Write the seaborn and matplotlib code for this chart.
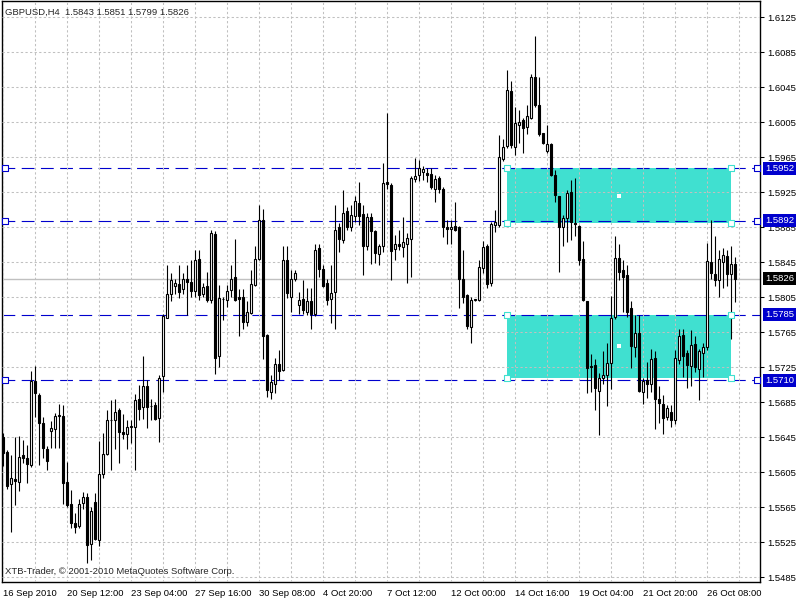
import numpy as np
import pandas as pd
import matplotlib
matplotlib.use("Agg")
import matplotlib.pyplot as plt
import matplotlib.transforms as mtransforms
from matplotlib.patches import Rectangle
import seaborn as sns

# ------------------------------------------------------------
# GBPUSD H4 bars
# ------------------------------------------------------------
opens = [
    1.5645, 1.5628, 1.5591, 1.5597, 1.5594, 1.5624, 1.5621, 1.5613, 1.5709, 1.5693,
    1.5661, 1.5631, 1.5652, 1.5654, 1.5669, 1.5669, 1.5594, 1.5568, 1.5547, 1.5543,
    1.5570, 1.5577, 1.5523, 1.5571, 1.5527, 1.5603, 1.5626, 1.5665, 1.5665, 1.5676,
    1.5651, 1.5649, 1.5657, 1.5657, 1.5688, 1.5679, 1.5703, 1.5681, 1.5682, 1.5667,
    1.5715, 1.5781, 1.5808, 1.5818, 1.5820, 1.5814, 1.5826, 1.5822, 1.5812, 1.5848,
    1.5808, 1.5818, 1.5802, 1.5877, 1.5738, 1.5803, 1.5802, 1.5813, 1.5828, 1.5805,
    1.5805, 1.5777, 1.5787, 1.5819, 1.5848, 1.5893, 1.5762, 1.5697, 1.5706, 1.5729,
    1.5722, 1.5847, 1.5805, 1.5826, 1.5796, 1.5803, 1.5788, 1.5801, 1.5786, 1.5861,
    1.5837, 1.5821, 1.5803, 1.5811, 1.5885, 1.5870, 1.5903, 1.5885, 1.5898, 1.5913,
    1.5900, 1.5863, 1.5897, 1.5880, 1.5854, 1.5863, 1.5936, 1.5933, 1.5860, 1.5866,
    1.5862, 1.5866, 1.5871, 1.5940, 1.5944, 1.5948, 1.5947, 1.5946, 1.5929, 1.5941,
    1.5929, 1.5885, 1.5883, 1.5886, 1.5885, 1.5826, 1.5807, 1.5771, 1.5802, 1.5802,
    1.5838, 1.5863, 1.5821, 1.5887, 1.5887, 1.5963, 1.5978, 1.6040, 1.5976, 1.6002,
    1.6007, 1.5999, 1.6010, 1.6057, 1.6024, 1.5993, 1.5972, 1.5980, 1.5945, 1.5920,
    1.5885, 1.5895, 1.5925, 1.5890, 1.5886, 1.5849, 1.5800, 1.5726, 1.5727, 1.5698,
    1.5713, 1.5716, 1.5730, 1.5782, 1.5850, 1.5836, 1.5830, 1.5792, 1.5748, 1.5764,
    1.5697, 1.5710, 1.5706, 1.5735, 1.5689, 1.5683, 1.5668, 1.5674, 1.5665, 1.5733,
    1.5762, 1.5741, 1.5726, 1.5751, 1.5723, 1.5741, 1.5748, 1.5845, 1.5831, 1.5825,
    1.5845, 1.5852, 1.5831, 1.5843,
]
highs = [
    1.5650, 1.5630, 1.5624, 1.5645, 1.5646, 1.5642, 1.5636, 1.5720, 1.5726, 1.5695,
    1.5668, 1.5635, 1.5663, 1.5673, 1.5683, 1.5682, 1.5617, 1.5584, 1.5558, 1.5574,
    1.5582, 1.5581, 1.5565, 1.5581, 1.5641, 1.5650, 1.5676, 1.5687, 1.5688, 1.5678,
    1.5671, 1.5664, 1.5664, 1.5694, 1.5704, 1.5738, 1.5710, 1.5688, 1.5685, 1.5716,
    1.5786, 1.5842, 1.5832, 1.5826, 1.5842, 1.5832, 1.5842, 1.5847, 1.5859, 1.5859,
    1.5821, 1.5834, 1.5882, 1.5881, 1.5819, 1.5805, 1.5819, 1.5842, 1.5871, 1.5814,
    1.5814, 1.5800, 1.5836, 1.5863, 1.5910, 1.5906, 1.5763, 1.5716, 1.5735, 1.5745,
    1.5863, 1.5863, 1.5836, 1.5836, 1.5811, 1.5824, 1.5815, 1.5815, 1.5866, 1.5866,
    1.5842, 1.5826, 1.5842, 1.5910, 1.5890, 1.5927, 1.5908, 1.5910, 1.5920, 1.5937,
    1.5910, 1.5901, 1.5901, 1.5882, 1.5866, 1.5958, 1.6015, 1.5935, 1.5876, 1.5882,
    1.5897, 1.5878, 1.5943, 1.5964, 1.5962, 1.5955, 1.5952, 1.5952, 1.5945, 1.5943,
    1.5931, 1.5893, 1.5893, 1.5914, 1.5886, 1.5859, 1.5809, 1.5805, 1.5803, 1.5847,
    1.5869, 1.5866, 1.5891, 1.5905, 1.5990, 1.5986, 1.6064, 1.6052, 1.6022, 1.6019,
    1.6010, 1.6024, 1.6060, 1.6103, 1.6057, 1.5993, 1.6002, 1.5981, 1.5950, 1.5920,
    1.5899, 1.5927, 1.5939, 1.5941, 1.5887, 1.5869, 1.5801, 1.5740, 1.5734, 1.5718,
    1.5743, 1.5753, 1.5806, 1.5875, 1.5866, 1.5847, 1.5842, 1.5800, 1.5784, 1.5784,
    1.5712, 1.5731, 1.5746, 1.5743, 1.5703, 1.5693, 1.5682, 1.5682, 1.5744, 1.5768,
    1.5769, 1.5745, 1.5767, 1.5760, 1.5746, 1.5752, 1.5867, 1.5893, 1.5875, 1.5859,
    1.5861, 1.5859, 1.5863, 1.5851,
]
lows = [
    1.5612, 1.5586, 1.5536, 1.5567, 1.5583, 1.5615, 1.5592, 1.5611, 1.5668, 1.5613,
    1.5621, 1.5607, 1.5632, 1.5633, 1.5633, 1.5568, 1.5565, 1.5541, 1.5535, 1.5541,
    1.5563, 1.5501, 1.5505, 1.5527, 1.5520, 1.5598, 1.5624, 1.5607, 1.5631, 1.5615,
    1.5643, 1.5631, 1.5638, 1.5607, 1.5664, 1.5666, 1.5655, 1.5664, 1.5664, 1.5639,
    1.5697, 1.5781, 1.5801, 1.5809, 1.5804, 1.5809, 1.5784, 1.5805, 1.5805, 1.5802,
    1.5805, 1.5799, 1.5798, 1.5717, 1.5725, 1.5779, 1.5794, 1.5805, 1.5801, 1.5760,
    1.5769, 1.5772, 1.5786, 1.5818, 1.5847, 1.5734, 1.5691, 1.5688, 1.5695, 1.5710,
    1.5720, 1.5804, 1.5788, 1.5823, 1.5786, 1.5786, 1.5784, 1.5768, 1.5783, 1.5828,
    1.5817, 1.5796, 1.5775, 1.5769, 1.5857, 1.5867, 1.5882, 1.5880, 1.5891, 1.5887,
    1.5830, 1.5859, 1.5843, 1.5844, 1.5842, 1.5857, 1.5928, 1.5824, 1.5847, 1.5859,
    1.5851, 1.5821, 1.5828, 1.5937, 1.5938, 1.5939, 1.5937, 1.5929, 1.5914, 1.5924,
    1.5874, 1.5866, 1.5866, 1.5880, 1.5792, 1.5798, 1.5769, 1.5752, 1.5800, 1.5800,
    1.5832, 1.5815, 1.5818, 1.5879, 1.5885, 1.5960, 1.5975, 1.5975, 1.5967, 1.5981,
    1.5970, 1.5991, 1.6008, 1.6022, 1.5989, 1.5980, 1.5970, 1.5943, 1.5914, 1.5834,
    1.5863, 1.5868, 1.5870, 1.5875, 1.5842, 1.5800, 1.5695, 1.5696, 1.5676, 1.5647,
    1.5706, 1.5680, 1.5700, 1.5780, 1.5824, 1.5788, 1.5782, 1.5724, 1.5737, 1.5696,
    1.5683, 1.5690, 1.5696, 1.5654, 1.5661, 1.5649, 1.5664, 1.5657, 1.5660, 1.5728,
    1.5714, 1.5701, 1.5703, 1.5719, 1.5687, 1.5714, 1.5745, 1.5826, 1.5818, 1.5805,
    1.5815, 1.5818, 1.5757, 1.5799,
]
closes = [
    1.5627, 1.5589, 1.5598, 1.5595, 1.5622, 1.5621, 1.5614, 1.5709, 1.5695, 1.5661,
    1.5632, 1.5618, 1.5655, 1.5669, 1.5670, 1.5593, 1.5567, 1.5547, 1.5542, 1.5569,
    1.5577, 1.5522, 1.5560, 1.5529, 1.5603, 1.5626, 1.5665, 1.5664, 1.5674, 1.5651,
    1.5649, 1.5657, 1.5658, 1.5687, 1.5677, 1.5703, 1.5679, 1.5680, 1.5666, 1.5713,
    1.5783, 1.5809, 1.5825, 1.5821, 1.5811, 1.5826, 1.5822, 1.5812, 1.5847, 1.5807,
    1.5816, 1.5802, 1.5878, 1.5735, 1.5804, 1.5803, 1.5812, 1.5826, 1.5802, 1.5803,
    1.5777, 1.5788, 1.5820, 1.5848, 1.5893, 1.5760, 1.5699, 1.5708, 1.5729, 1.5721,
    1.5847, 1.5810, 1.5826, 1.5833, 1.5802, 1.5790, 1.5800, 1.5786, 1.5859, 1.5837,
    1.5818, 1.5802, 1.5810, 1.5882, 1.5871, 1.5901, 1.5885, 1.5899, 1.5915, 1.5898,
    1.5863, 1.5897, 1.5881, 1.5855, 1.5863, 1.5935, 1.5934, 1.5858, 1.5866, 1.5863,
    1.5868, 1.5873, 1.5941, 1.5943, 1.5953, 1.5951, 1.5945, 1.5931, 1.5940, 1.5928,
    1.5885, 1.5883, 1.5885, 1.5882, 1.5826, 1.5805, 1.5772, 1.5802, 1.5802, 1.5839,
    1.5862, 1.5820, 1.5888, 1.5891, 1.5965, 1.5976, 1.6042, 1.5979, 1.6004, 1.6005,
    1.5998, 1.6012, 1.6056, 1.6024, 1.5991, 1.5981, 1.5980, 1.5944, 1.5922, 1.5885,
    1.5895, 1.5924, 1.5891, 1.5888, 1.5847, 1.5802, 1.5724, 1.5725, 1.5701, 1.5713,
    1.5716, 1.5730, 1.5781, 1.5850, 1.5834, 1.5828, 1.5788, 1.5749, 1.5764, 1.5698,
    1.5709, 1.5706, 1.5734, 1.5688, 1.5684, 1.5667, 1.5678, 1.5664, 1.5735, 1.5760,
    1.5738, 1.5727, 1.5750, 1.5725, 1.5743, 1.5748, 1.5846, 1.5832, 1.5824, 1.5848,
    1.5853, 1.5831, 1.5843, 1.5826,
]

date_labels = ["16 Sep 2010", "20 Sep 12:00", "23 Sep 04:00", "27 Sep 16:00",
               "30 Sep 08:00", "4 Oct 20:00", "7 Oct 12:00", "12 Oct 00:00",
               "14 Oct 16:00", "19 Oct 04:00", "21 Oct 20:00", "26 Oct 08:00"]

hline_levels = [1.5952, 1.5892, 1.5785, 1.5710]
hline_handles = [1.5952, 1.5892, 1.5710]          # lines shown as selected
zones = [(1.5890, 1.5952), (1.5713, 1.5785)]       # (bottom, top) of the two boxes
zone_bars = (126, 182)                            # first / last bar covered
bid_price = 1.5826
title = "GBPUSD,H4  1.5843 1.5851 1.5799 1.5826"
copyright_txt = "XTB-Trader, \u00a9 2001-2010 MetaQuotes Software Corp."

# ------------------------------------------------------------
# style
# ------------------------------------------------------------
sns.set_theme(style="white")
plt.rcParams['font.family'] = ['Liberation Sans', 'DejaVu Sans']
FS = 6.8
BLUE = "#0000cd"
TURQ = "#40e0d0"
GRID = "#c0c0c0"

df = pd.DataFrame({"open": opens, "high": highs, "low": lows, "close": closes})
df["bar"] = np.arange(len(df))
df["bull"] = df["close"] >= df["open"]

fig = plt.figure(figsize=(8, 6), dpi=100)
ax = fig.add_axes([2 / 800, 18 / 600, 758 / 800, 581 / 600])
ax.set_xlim(-0.25, 189.25)
ax.set_ylim(1.54793, 1.61433)

# grid
price_ticks = np.round(np.arange(1.5485, 1.6126, 0.0040), 4)
bar_ticks = np.arange(0, 190, 8)
ax.set_yticks(price_ticks)
ax.set_yticklabels([f"{p:.4f}" for p in price_ticks], fontsize=FS)
ax.set_xticks(bar_ticks)
ax.set_xticklabels([date_labels[k // 2] if k % 2 == 0 and k // 2 < len(date_labels) else ""
                    for k in range(len(bar_ticks))], fontsize=FS, ha="left")
ax.grid(True, color=GRID, linestyle=(0, (2.2, 2.2)), linewidth=0.75, zorder=1)
ax.set_axisbelow(False)
ax.yaxis.tick_right()
ax.tick_params(axis="both", direction="out", length=3, width=0.75, color="black",
               pad=2, labelcolor="black")
for s in ax.spines.values():
    s.set_color("black")
    s.set_linewidth(1)

# turquoise zones (behind grid)
for lo, hi in zones:
    ax.add_patch(Rectangle((zone_bars[0], lo), zone_bars[1] - zone_bars[0], hi - lo,
                           facecolor=TURQ, edgecolor="none", zorder=0.5))

# bid line
ax.axhline(bid_price, color=GRID, linewidth=1, zorder=1.5)

# horizontal levels
for lvl in hline_levels:
    ax.axhline(lvl, color=BLUE, linewidth=0.8, linestyle=(0, (11.5, 5.8)), zorder=2)

# candles
ax.vlines(df["bar"], df["low"], df["high"], color="black", linewidth=0.8, zorder=3)
body_lo = df[["open", "close"]].min(axis=1)
body_h = (df["close"] - df["open"]).abs().clip(lower=0.00002)
ax.bar(df["bar"], body_h, bottom=body_lo, width=0.5,
       color=np.where(df["bull"], "white", "black"), edgecolor="black",
       linewidth=0.8, zorder=4)

# object handles
hh = pd.DataFrame({"x": [0.5] * len(hline_handles) + [188.5] * len(hline_handles),
                   "y": hline_handles * 2})
sns.scatterplot(data=hh, x="x", y="y", marker="s", s=14, facecolor="white",
                edgecolor=BLUE, linewidth=0.8, ax=ax, zorder=6, clip_on=False)
corners = pd.DataFrame({"x": [b for lo, hi in zones for b in zone_bars for _ in (0, 1)],
                        "y": [v for lo, hi in zones for _ in zone_bars for v in (lo, hi)]})
sns.scatterplot(data=corners, x="x", y="y", marker="s", s=14, facecolor="white",
                edgecolor=TURQ, linewidth=0.8, ax=ax, zorder=6)
centers = pd.DataFrame({"x": [np.mean(zone_bars)] * len(zones),
                        "y": [(lo + hi) / 2 for lo, hi in zones]})
sns.scatterplot(data=centers, x="x", y="y", marker="s", s=5, color="white",
                linewidth=0, ax=ax, zorder=6)
ax.set_xlabel("")
ax.set_ylabel("")

# price boxes on the right axis
trans = mtransforms.blended_transform_factory(ax.transAxes, ax.transData)
for lvl in hline_levels:
    ax.text(1.0066, lvl, f"{lvl:.4f}", transform=trans, fontsize=FS, color="white",
            va="center", ha="left", zorder=10,
            bbox=dict(boxstyle="square,pad=0.2", fc=BLUE, ec="none"))
ax.text(1.0066, bid_price, f"{bid_price:.4f}", transform=trans, fontsize=FS, color="white",
        va="center", ha="left", zorder=10,
        bbox=dict(boxstyle="square,pad=0.2", fc="black", ec="none"))

fig.text(5 / 800, 1 - 12 / 600, title, fontsize=FS, va="center", ha="left")
fig.text(5 / 800, 1 - 572 / 600, copyright_txt, fontsize=FS, va="center", ha="left")

fig.savefig("out.png", dpi=100, facecolor="white")
